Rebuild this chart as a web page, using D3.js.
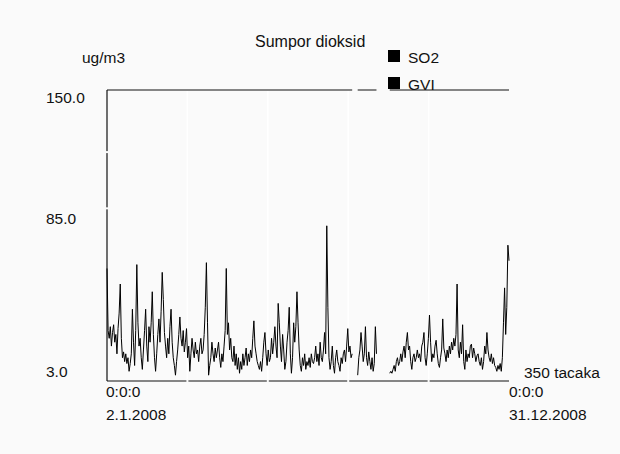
<!DOCTYPE html>
<html>
<head>
<meta charset="utf-8">
<script src="https://cdn.jsdelivr.net/npm/d3@7"></script>
<style>
  html, body { margin: 0; padding: 0; background: #fafafa; }
  svg { display: block; font-family: "Liberation Sans", Arial, sans-serif; }
</style>
</head>
<body>
<svg id="chart" width="620" height="454"></svg>
<script>
// ---- data ----
const title = "Sumpor dioksid";
const unitLabel = "ug/m3";
const seriesNames = ["SO2", "GVI"];
const startLabel = ["0:0:0", "2.1.2008"];
const endLabel = ["0:0:0", "31.12.2008"];
const countLabel = "350 tacaka";
const yTickValues = [150, 85, 3];
const yTickLabels = ["150.0", "85.0", "3.0"];
const gviLimit = 150;
const yDomain = [0, 150];
const dayCount = 365; // 2.1.2008 .. 31.12.2008

// daily SO2 values (ug/m3), null = missing day
const so2 = [
  58, 26, 22, 28, 18, 25, 29, 20, 24, 14,
  27, 35, 50, 22, 12, 15, 10, 14, 9, 12,
  5, 9, 14, 37, 20, 8, 26, 60, 30, 18,
  22, 12, 6, 16, 26, 37, 18, 10, 28, 20,
  30, 46, 24, 12, 5, 14, 24, 32, 20, 36,
  56, 42, 25, 18, 12, 22, 14, 28, 37, 20,
  12, 8, 3, 10, 16, 24, 33, 22, 18, 26,
  15, 20, 27, 12, 18, 5, 14, 22, 16, 12,
  20, 14, 16, 10, 18, 22, 14, 16, 24, 38,
  61, 30, 3, 8, 12, 20, 14, 10, 17, 12,
  16, 20, 12, 7, 14, 10, 18, 26, 58, 24,
  30, 16, 22, 12, 10, 18, 8, 14, 6, 12,
  4, 10, 6, 14, 8, 12, 17, 8, 14, 10,
  16, 12, 22, 31, 18, 14, 10, 8, 6, 10,
  5, 12, 20, 25, 14, 8, 16, 10, 12, 22,
  14, 20, 28, 18, 12, 40, 30, 18, 10, 24,
  16, 6, 10, 20, 26, 38, 14, 4, 12, 30,
  20, 28, 46, 30, 16, 8, 5, 12, 8, 14,
  6, 10, 8, 12, 7, 14, 10, 9, 12, 18,
  10, 14, 8, 20, 12, 10, 16, 25, 14, 80,
  38, 12, 6, 10, 18, 8, 4, 12, 16, 10,
  8, 5, 12, 9, 14, 16, 10, 18, 27, 15,
  18, 12, 14, null, null, null, null, 3, 12, 16,
  25, 18, 10, 14, 28, 12, 8, 15, 10, 6,
  12, 5, 9, 28, 14, null, null, null, null, null,
  null, null, null, null, null, null, 4, 5, 4, 6,
  8, 5, 10, 12, 8, 10, 14, 10, 15, 18,
  12, 20, 25, 16, 18, 10, 6, 12, 14, 10,
  12, 16, 12, 14, 10, 18, 20, 25, 12, 8,
  14, 22, 34, 20, 10, 14, 12, 18, 21, 14,
  9, 7, 12, 16, 32, 17, 14, 10, 16, 12,
  18, 14, 20, 16, 22, 18, 24, 50, 16, 12,
  20, 14, 29, 10, 6, 16, 10, 14, 12, 18,
  19, 12, 17, 14, 10, 13, 14, 10, 8, 12,
  6, 10, 18, 14, 25, 16, 12, 10, 14, 9,
  12, 8, 7, 5, 8, 6, 9, 5, 12, 30,
  48, 24, 38, 70, 62
];

// ---- layout ----
const svg = d3.select("#chart");
const W = 620, H = 454;
const plot = { left: 107, right: 509, top: 90, bottom: 381 };
const FS = "15.5px";

const x = d3.scaleLinear().domain([0, dayCount - 1]).range([plot.left, plot.right]);
const y = d3.scaleLinear().domain(yDomain).range([plot.bottom, plot.top]);
// label baselines as placed by the original program
const yLab = d3.scaleLinear().domain([3, 150]).range([377, 103]);

svg.append("rect").attr("width", W).attr("height", H).attr("fill", "#fafafa");

// faint vertical grid (white)
const xGrid = d3.range(1, 5).map(k => (dayCount - 1) * k / 5);
svg.append("g").selectAll("line").data(xGrid).join("line")
  .attr("x1", d => x(d)).attr("x2", d => x(d))
  .attr("y1", plot.top + 1).attr("y2", plot.bottom)
  .attr("stroke", "#ffffff").attr("stroke-width", 1.5);

// axes
const axisG = svg.append("g");
axisG.append("line")
  .attr("x1", plot.left).attr("x2", plot.left)
  .attr("y1", y(gviLimit)).attr("y2", plot.bottom)
  .attr("stroke", "#111").attr("stroke-width", 1.2);
axisG.append("line")
  .attr("x1", plot.left).attr("x2", plot.right)
  .attr("y1", plot.bottom).attr("y2", plot.bottom)
  .attr("stroke", "#111").attr("stroke-width", 1.2);
// little white tick gaps on the x axis
axisG.selectAll("rect.gx").data(xGrid).join("rect").attr("class", "gx")
  .attr("x", d => x(d) - 1).attr("y", plot.bottom - 1.5)
  .attr("width", 2).attr("height", 3).attr("fill", "#fafafa");
// little gaps on the y axis
const yGapVals = [118, 89];
axisG.selectAll("rect.gy").data(yGapVals).join("rect").attr("class", "gy")
  .attr("x", plot.left - 1.5).attr("y", d => y(d) - 1)
  .attr("width", 3).attr("height", 2).attr("fill", "#fafafa");

// series lines
const line = d3.line()
  .defined(d => d.v != null)
  .x(d => x(d.i))
  .y(d => y(d.v));

const so2Data = so2.map((v, i) => ({ i, v }));
const gviData = so2.map((v, i) => ({ i, v: v == null ? null : gviLimit }));

svg.append("path").datum(gviData)
  .attr("d", line).attr("fill", "none")
  .attr("stroke", "#111").attr("stroke-width", 1.2);

svg.append("path").datum(so2Data)
  .attr("d", line).attr("fill", "none")
  .attr("stroke", "#000").attr("stroke-width", 1);

// y labels
svg.append("g").selectAll("text").data(yTickValues).join("text")
  .attr("x", 46).attr("y", d => yLab(d))
  .attr("font-size", FS).attr("fill", "#111")
  .text((d, i) => yTickLabels[i]);

// unit label
svg.append("text").attr("x", 82).attr("y", 63)
  .attr("font-size", FS).attr("fill", "#111").text(unitLabel);

// title
svg.append("text").attr("x", 255).attr("y", 47)
  .attr("font-size", "16px").attr("fill", "#111").text(title);

// legend
const leg = svg.append("g");
seriesNames.forEach((name, k) => {
  const ly = 50 + k * 27;
  leg.append("rect").attr("x", 388).attr("y", ly).attr("width", 12).attr("height", 12).attr("fill", "#000");
  leg.append("text").attr("x", 408).attr("y", ly + 12.5)
    .attr("font-size", FS).attr("fill", "#111").text(name);
});

// x labels
const xl = svg.append("g").attr("font-size", FS).attr("fill", "#111");
xl.append("text").attr("x", x(0) - 1).attr("y", 397).text(startLabel[0]);
xl.append("text").attr("x", x(0) - 1).attr("y", 420).text(startLabel[1]);
xl.append("text").attr("x", x(dayCount - 1)).attr("y", 397).text(endLabel[0]);
xl.append("text").attr("x", x(dayCount - 1)).attr("y", 420).text(endLabel[1]);
xl.append("text").attr("x", 524).attr("y", 378).text(countLabel);
</script>
</body>
</html>
